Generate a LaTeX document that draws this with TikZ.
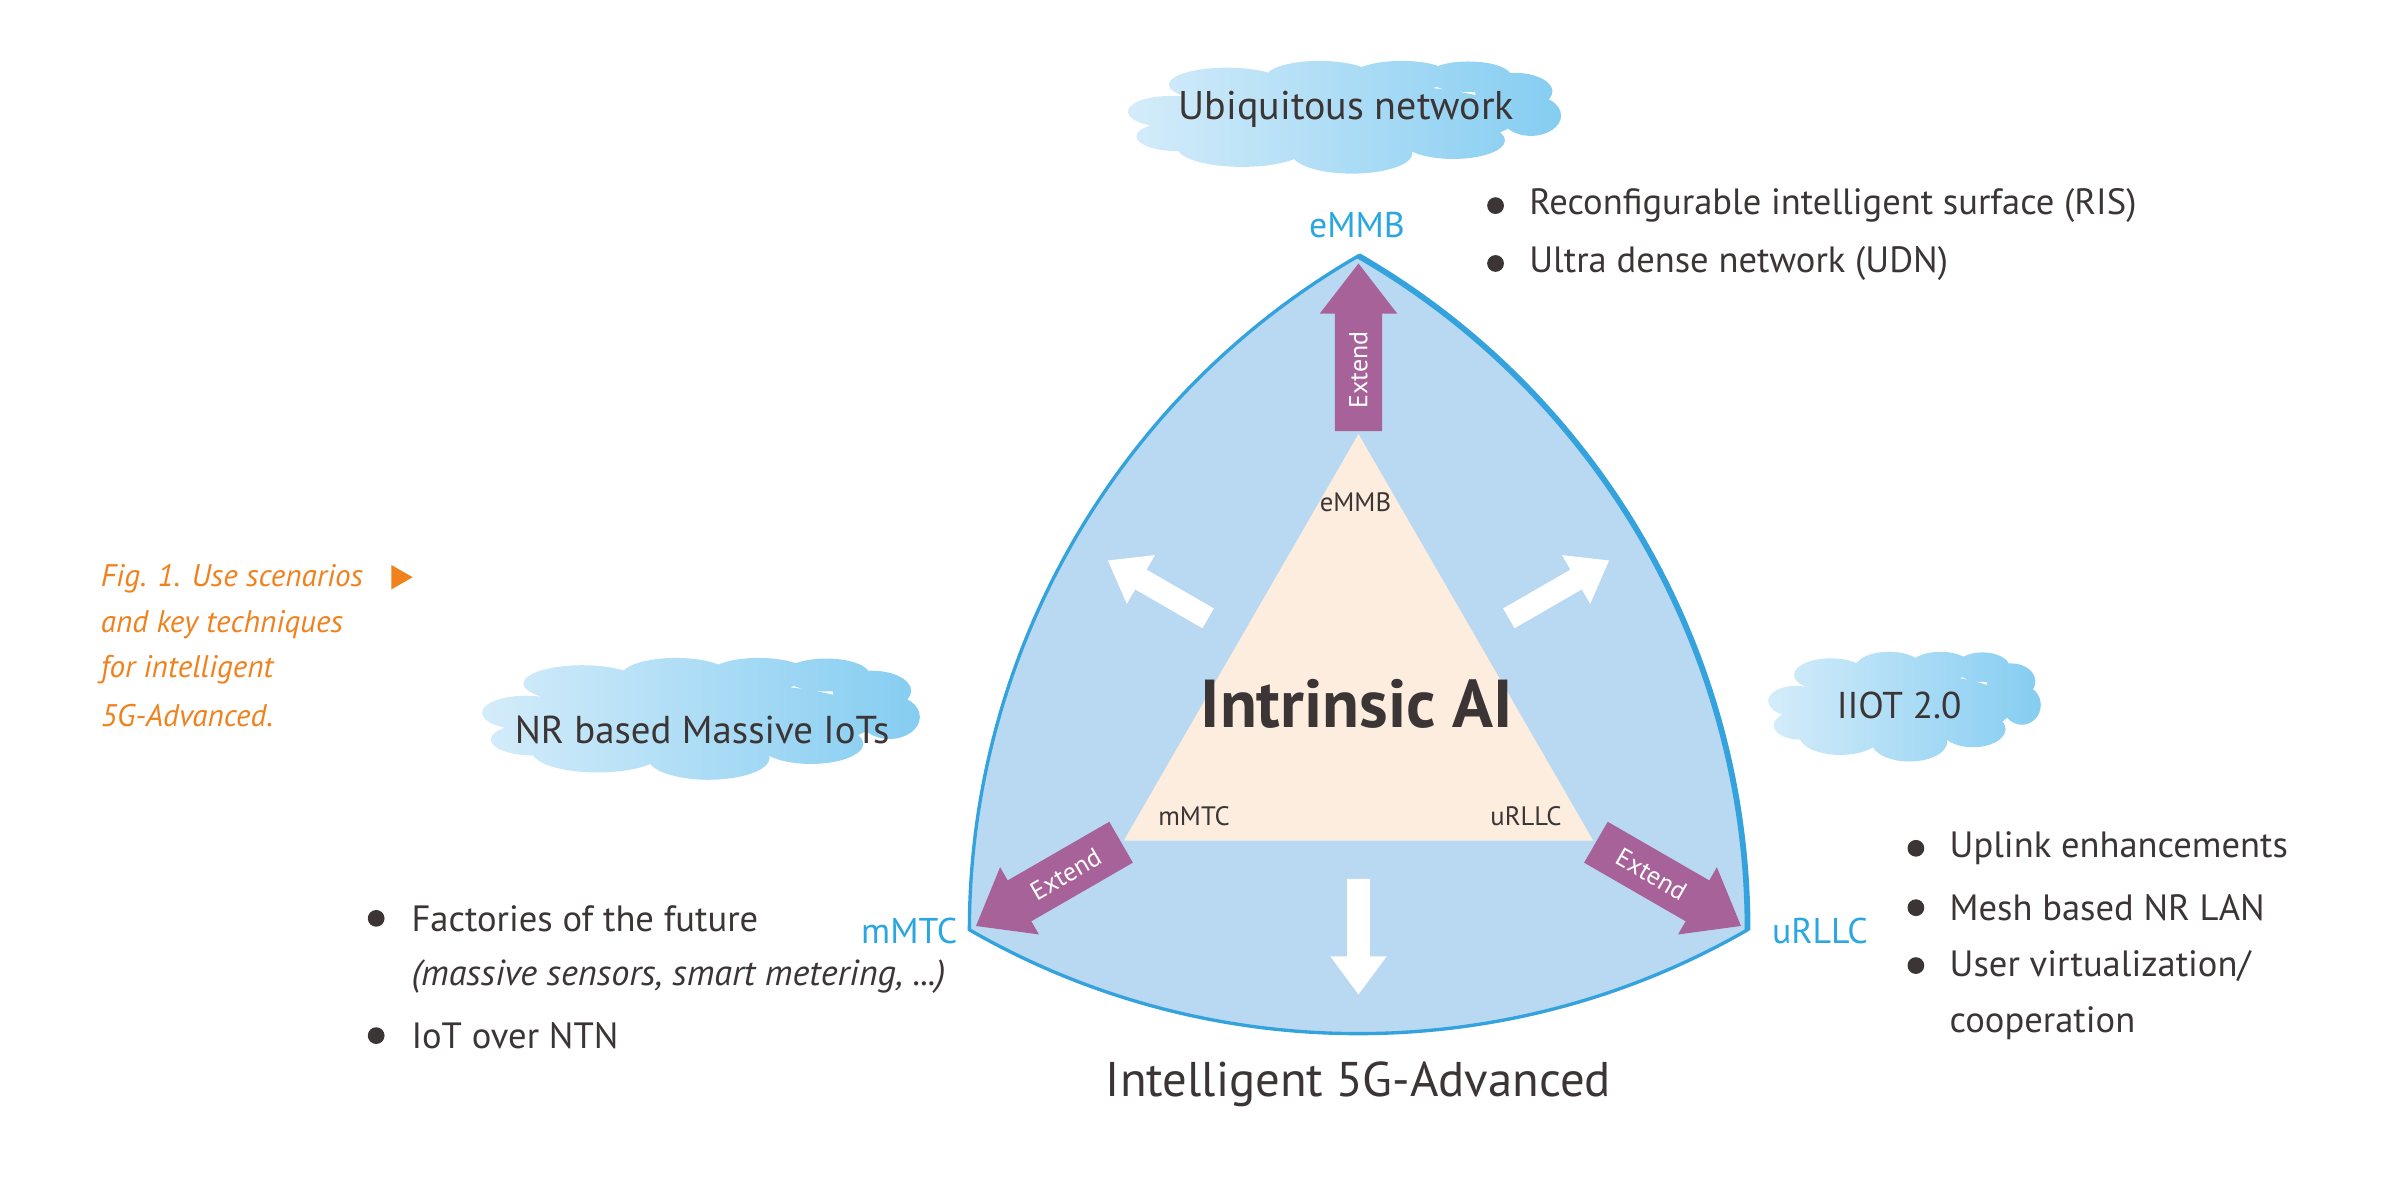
\documentclass[tikz,border=0pt]{standalone}
\usepackage{fontspec}
\setmainfont{PT Sans}
\usetikzlibrary{calc}
\definecolor{shapefill}{HTML}{B9D8F1}
\definecolor{shapeline}{HTML}{34A3DD}
\definecolor{innerfill}{HTML}{FDEDDF}
\definecolor{extendc}{HTML}{A8629A}
\definecolor{darktext}{HTML}{3B3536}
\definecolor{bluelabel}{HTML}{2AA7E0}
\definecolor{capcolor}{HTML}{F0821E}
\definecolor{cloudL}{HTML}{D4ECFA}
\definecolor{cloudR}{HTML}{85CDF1}
\newcommand{\BlockArrow}[7]{%
  \begin{scope}[shift={(892,-463)}, rotate=#1]
  \fill[#7] (#2,-#4) -- (#3-#6,-#4) -- (#3-#6,-#5) -- (#3,0) -- (#3-#6,#5) -- (#3-#6,#4) -- (#2,#4) -- cycle;
  \end{scope}}
\newcommand{\CloudShape}[4]{%
  \begin{scope}[shift={(#1,#2)}, xscale=#3/2, yscale=#4/2]
  \shade[left color=cloudL, right color=cloudR]
    (0,0) ellipse (0.8 and 0.6)
    (-0.81,0.10) ellipse (0.20 and 0.28)
    (-0.78,-0.34) ellipse (0.19 and 0.26)
    (-0.55,0.58) ellipse (0.27 and 0.30)
    (-0.12,0.71) ellipse (0.25 and 0.29)
    (0.26,0.73) ellipse (0.23 and 0.27)
    (0.57,0.72) ellipse (0.20 and 0.27)
    (0.78,0.46) ellipse (0.18 and 0.33)
    (0.86,0.03) ellipse (0.14 and 0.36)
    (0.50,-0.41) ellipse (0.24 and 0.33)
    (0.03,-0.64) ellipse (0.28 and 0.36)
    (-0.48,-0.54) ellipse (0.30 and 0.34);
  \end{scope}}
\newcommand{\fs}[1]{\fontsize{#1}{#1}\selectfont}
\begin{document}
\begin{tikzpicture}[x=1pt,y=1pt,
  txt/.style={text=darktext, inner sep=0pt},
  bluetxt/.style={text=bluelabel, inner sep=0pt, font=\fs{23.5}},
  innertxt/.style={text=darktext, inner sep=0pt, font=\fs{17.5}},
  bullettxt/.style={text=darktext, inner sep=0pt, anchor=west, font=\fs{24}},
  dot/.style={circle, fill=darktext, inner sep=0pt, minimum size=11pt},
  captxt/.style={text=capcolor, inner sep=0pt, anchor=west, font=\fs{20.5}\itshape},
  extendtxt/.style={text=white, inner sep=0pt, font=\fs{17}},
  arcside/.style={bend right=30, looseness=0.9126}
]
\useasboundingbox (0,0) rectangle (1568,-787);
\fill[white] (0,0) rectangle (1568,-787);

\coordinate (O) at (892,-463);
\coordinate (A) at ($(O)+(90:295)$);
\coordinate (B) at ($(O)+(210:295)$);
\coordinate (C) at ($(O)+(330:295)$);

% Reuleaux shape
\fill[shapefill] (A) to[arcside] (B) to[arcside] (C) to[arcside] (A) -- cycle;
\draw[shapeline, line width=2.2pt, line join=miter] (A) to[arcside] (B) to[arcside] (C) to[arcside] (A) -- cycle;
\draw[shapeline, line width=3.8pt] (C) to[arcside] (A);

% inner triangle
\fill[innerfill] ($(O)+(90:178)$) -- ($(O)+(210:178)$) -- ($(O)+(330:178)$) -- cycle;

% purple extend arrows
\BlockArrow{90}{180}{290}{15.5}{25.5}{33}{extendc}
\BlockArrow{210}{180}{290}{15.5}{25.5}{33}{extendc}
\BlockArrow{330}{180}{290}{15.5}{25.5}{33}{extendc}
\node[extendtxt, rotate=90] (ext1) at ($(O)+(90:220)$) {Extend};
\node[extendtxt, rotate=30] (ext2) at ($(O)+(210:222)$) {Extend};
\node[extendtxt, rotate=-30] (ext3) at ($(O)+(330:222)$) {Extend};

% white arrows
\BlockArrow{150}{114}{190}{7.5}{18.5}{25}{white}
\BlockArrow{30}{114}{190}{7.5}{18.5}{25}{white}
\BlockArrow{270}{114}{190}{7.5}{18.5}{25}{white}

% labels inside
\node[txt, font=\fs{44.5}\bfseries] (ai) at (891,-462) {Intrinsic AI};
\node[innertxt] (in1) at (890,-330) {eMMB};
\node[innertxt] (in2) at (784,-536) {mMTC};
\node[innertxt] (in3) at (1002,-536) {uRLLC};

% vertex labels
\node[bluetxt] (v1) at (891,-148) {eMMB};
\node[bluetxt] (v2) at (597,-611) {mMTC};
\node[bluetxt] (v3) at (1195,-611) {uRLLC};

\node[txt, font=\fs{32}] (title) at (892,-712) {Intelligent 5G-Advanced};

% clouds
\CloudShape{883.5}{-77}{283}{74}
\node[txt, font=\fs{26.3}] (c1t) at (884,-72) {Ubiquitous network};
\CloudShape{461}{-472}{286}{80}
\node[txt, font=\fs{25.5}] (c2t) at (461,-479) {NR based Massive IoTs};
\CloudShape{1251}{-464}{178}{72}
\node[txt, font=\fs{24.5}] (c3t) at (1247,-463) {IIOT 2.0};

% top-right bullets
\node[dot] (d1) at (982,-135) {};
\node[bullettxt] (t1) at (1004,-135) {Reconfigurable intelligent surface (RIS)};
\node[dot] (d2) at (982,-173) {};
\node[bullettxt] (t2) at (1004,-173) {Ultra dense network (UDN)};

% right bullets
\node[dot] (d3) at (1258,-557) {};
\node[bullettxt] (t3) at (1280,-557) {Uplink enhancements};
\node[dot] (d4) at (1258,-596) {};
\node[bullettxt] (t4) at (1280,-596) {Mesh based NR LAN};
\node[dot] (d5) at (1258,-634) {};
\node[bullettxt] (t5) at (1280,-634) {User virtualization/};
\node[bullettxt] (t6) at (1280,-672) {cooperation};

% left bullets
\node[dot] (d6) at (247,-603) {};
\node[bullettxt] (t7) at (270,-603) {Factories of the future};
\node[bullettxt, font=\fs{23.8}\itshape] (t8) at (270,-641) {(massive sensors, smart metering, ...)};
\node[dot] (d7) at (247,-680) {};
\node[bullettxt] (t9) at (270,-680) {IoT over NTN};

% caption
\node[captxt] (cap1) at (66,-380) {Fig. 1. Use scenarios};
\node[captxt] (cap2) at (66,-410) {and key techniques};
\node[captxt] (cap3) at (66,-440) {for intelligent};
\node[captxt] (cap4) at (66,-470) {5G-Advanced.};
\fill[capcolor] (257,-371) -- (271,-379) -- (257,-387) -- cycle;
\end{tikzpicture}
\end{document}
